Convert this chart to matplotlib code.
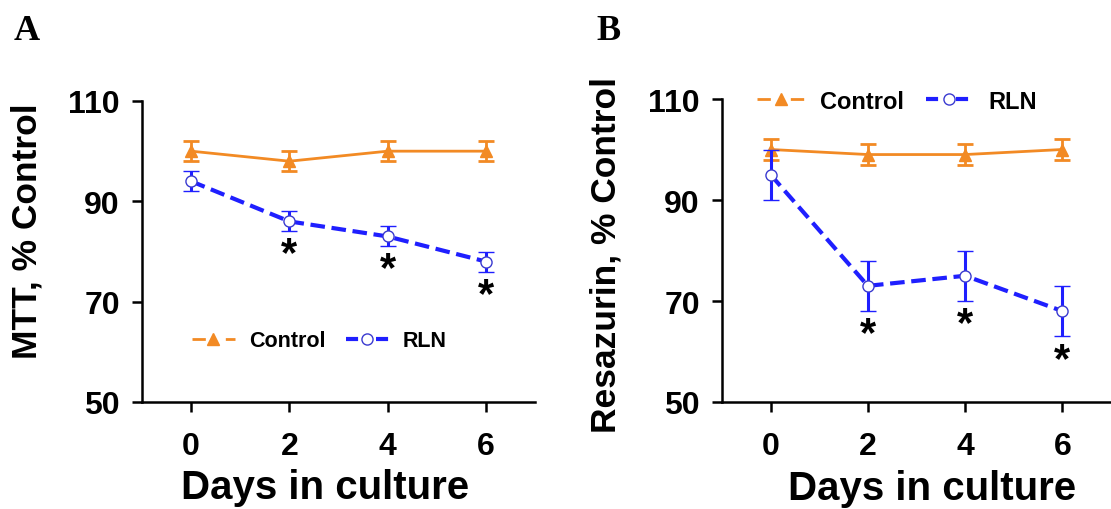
import numpy as np
import matplotlib
matplotlib.use("Agg")
import matplotlib.pyplot as plt
from matplotlib.lines import Line2D

plt.rcParams['font.family'] = ['Liberation Sans', 'DejaVu Sans']
plt.rcParams['font.weight'] = 'bold'

# data
days = [0, 2, 4, 6]

mtt_control = [100, 98, 100, 100]
mtt_control_err = [2, 2, 2, 2]
mtt_rln = [94, 86, 83, 78]
mtt_rln_err = [2, 2, 2, 2]
mtt_sig_days = [2, 4, 6]

resa_control = [100, 99, 99, 100]
resa_control_err = [2, 2, 2, 2]
resa_rln = [95, 73, 75, 68]
resa_rln_err = [5, 5, 5, 5]
resa_sig_days = [2, 4, 6]

ORANGE = '#f28a24'
BLUE = '#1f1fff'
EDGE_BLUE = '#3a3ad0'

fig = plt.figure(figsize=(11.11, 5.10), dpi=100)


def draw_panel(ax, ctrl, ctrl_err, rln, rln_err, sig_days, ylabel,
               leg_anchor, leg_size):
    ax.errorbar(days, ctrl, yerr=ctrl_err, color=ORANGE, lw=2.0, marker='^',
                ms=9, mec=ORANGE, mfc=ORANGE, capsize=6, capthick=2.0,
                elinewidth=2.0, zorder=3)
    ax.errorbar(days, rln, yerr=rln_err, color=BLUE, lw=3, ls=(0, (3.5, 1.6)),
                marker='o', ms=8, mfc='white', mec=EDGE_BLUE, mew=1.0,
                capsize=6, capthick=2.2, elinewidth=2.2, zorder=4)
    for d in sig_days:
        i = days.index(d)
        ax.text(d, rln[i] - rln_err[i] - 4.6, '*', ha='center', va='center',
                fontsize=30, fontweight='bold', color='black')

    ax.set_xlim(-1, 7)
    ax.set_ylim(50, 110)
    ax.set_xticks(days)
    ax.set_yticks([50, 70, 90, 110])
    for s in ['top', 'right']:
        ax.spines[s].set_visible(False)
    for s in ['left', 'bottom']:
        ax.spines[s].set_linewidth(1.8)
    ax.tick_params(axis='both', direction='out', length=7, width=1.8,
                   labelsize=23)
    ax.tick_params(axis='y', pad=9)
    ax.tick_params(axis='x', pad=14)
    ax.set_xlabel('Days in culture', fontsize=29, fontweight='bold')
    ax.set_ylabel(ylabel, fontsize=25.5, fontweight='bold')

    # legend handles: short segments either side of the marker
    h_ctrl = Line2D([], [], color=ORANGE, lw=2.0, ls=(0, (4.8, 7.2)),
                    marker='^', ms=9, mec=ORANGE, mfc=ORANGE)
    h_rln = Line2D([], [], color=BLUE, lw=3, ls=(0, (2.9, 4.3)),
                   marker='o', ms=8, mfc='white', mec=EDGE_BLUE, mew=1.0)
    ax.legend([h_ctrl, h_rln], ['Control', 'RLN'], loc='center left',
              bbox_to_anchor=leg_anchor, ncol=2, frameon=False,
              fontsize=leg_size, handlelength=2.0, handletextpad=0.65,
              columnspacing=0.95, borderpad=0, borderaxespad=0)
    return ax


axA = fig.add_axes([142 / 1111, 1 - 403 / 510, 393 / 1111, 301 / 510])
draw_panel(axA, mtt_control, mtt_control_err, mtt_rln, mtt_rln_err,
           mtt_sig_days, 'MTT, % Control', (0.127, 0.203), 15.5)
axA.yaxis.set_label_coords(-0.25, 0.57)
axA.xaxis.set_label_coords(0.466, -0.22)

axB = fig.add_axes([722 / 1111, 1 - 403 / 510, 389 / 1111, 303 / 510])
draw_panel(axB, resa_control, resa_control_err, resa_rln, resa_rln_err,
           resa_sig_days, 'Resazurin, % Control', (0.09, 0.993), 17)
axB.yaxis.set_label_coords(-0.257, 0.49)
axB.xaxis.set_label_coords(0.54, -0.22)

fig.text(14 / 1111, 1 - 40 / 510, 'A', fontsize=26, fontweight='bold',
         family='Liberation Serif')
fig.text(596 / 1111, 1 - 40 / 510, 'B', fontsize=26, fontweight='bold',
         family='Liberation Serif')

fig.savefig('out.png', dpi=100)
